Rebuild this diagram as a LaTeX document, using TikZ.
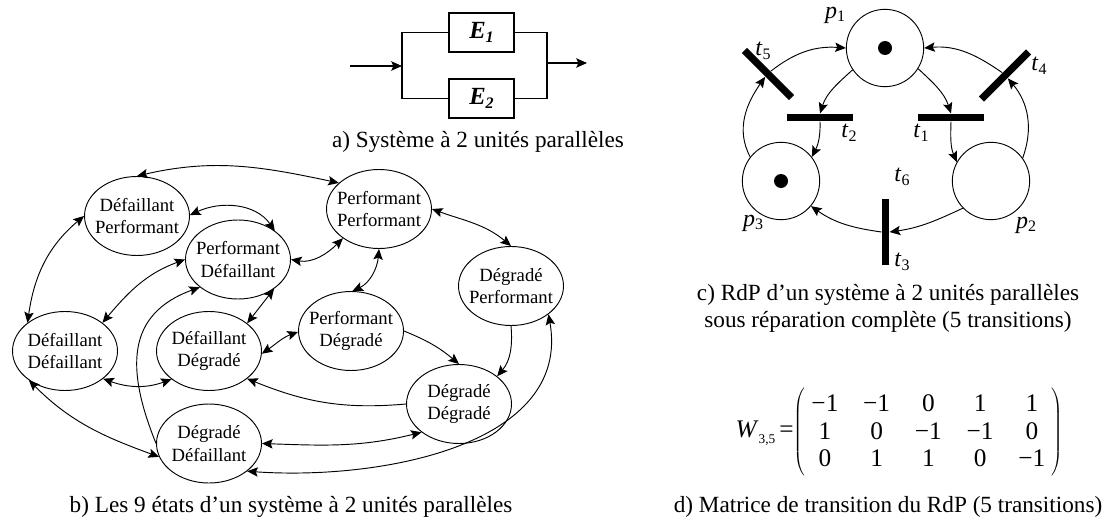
\documentclass[tikz,border=0pt]{standalone}
\usepackage{fontspec}
\setmainfont{Liberation Serif}
\usetikzlibrary{arrows.meta,matrix,shapes.geometric}
\newcommand{\sublab}[2]{\textit{#1}\raisebox{-.35ex}{\fontsize{12}{14}\selectfont #2}}

\begin{document}
\begin{tikzpicture}
    [x=.75pt,y=.75pt,line width=.7pt,>={Stealth[length=8pt,width=7pt,inset=1.5pt]},
    state/.style={ellipse,draw,inner xsep=-8pt,inner ysep=0pt,minimum width=78.75pt,minimum height=59.25pt,
    align=center,font=\fontsize{14}{17}\selectfont},
    place/.style={circle,draw,inner sep=0pt,minimum size=58pt},
    token/.style={circle,fill=black,inner sep=0pt,minimum size=10.5pt},
    bar/.style={rectangle,fill=black,inner sep=0pt,minimum width=50pt,minimum height=5.4pt},
    unit/.style={rectangle,draw,line width=.9pt,inner sep=0pt,minimum width=48.75pt,minimum height=29.25pt,
    font=\fontsize{18.5}{20}\selectfont\bfseries\itshape},
    wire/.style={line width=.9pt},
    caption/.style={inner sep=0pt,align=center,font=\fontsize{17.4}{20.2}\selectfont},
    lab/.style={inner sep=0pt,font=\fontsize{18}{20}\selectfont}]
    \useasboundingbox (0,0) rectangle (1102,519);

    \node[unit] (e1) at (481.5,486.5) {E\raisebox{-.35ex}{\fontsize{12}{14}\selectfont 1}};
    \node[unit] (e2) at (481.5,420.5) {E\raisebox{-.35ex}{\fontsize{12}{14}\selectfont 2}};
    \coordinate (in) at (350,453);
    \coordinate (jleft) at (402,453);
    \coordinate (jright) at (547,456);
    \coordinate (out) at (587,456);
    \draw[wire] (e1.west) -| (jleft) |- (e2.west);
    \draw[wire] (e1.east) -| (jright) |- (e2.east);
    \draw[wire,->] (in) -- (jleft);
    \draw[wire,->] (jright) -- (out);
    \node[caption] (capa) at (478,377) {a) Système à 2 unités parallèles};

    \node[state] (dp) at (137,303) {Défaillant\\Performant};
    \node[state] (pd) at (238,259.5) {Performant\\Défaillant};
    \node[state] (dd) at (65,168) {Défaillant\\Défaillant};
    \node[state] (dg) at (209,168) {Défaillant\\Dégradé};
    \node[state] (gd) at (209,75.5) {Dégradé\\Défaillant};
    \node[state] (pp) at (379,310) {Performant\\Performant};
    \node[state] (pg) at (351,188) {Performant\\Dégradé};
    \node[state] (gp) at (511,233) {Dégradé\\Performant};
    \node[state] (gg) at (459,115) {Dégradé\\Dégradé};
    \draw[<->] (dp.north) to[out=13,in=168] (pp.147);
    \draw[<->] (dp.1) to[out=25,in=125] (pd.38);
    \draw[<->] (pd.0) to[out=-10,in=225] (pp.219);
    \draw[<->] (pd.180) to[out=200,in=50] (dd.37);
    \draw[<->] (pd.-39) -- (dg.36);
    \draw[->] (gd.180) to[out=112,in=200,looseness=1.25] (pd.216);
    \draw[<->] (dp.180) to[out=220,in=82] (dd.143);
    \draw[<->] (dd.-36) to[out=-20,in=200] (dg.217);
    \draw[<->] (dd.219) to[out=-45,in=160] (gd.195);
    \draw[<->] (dg.357) to[out=35,in=200] (pg.181);
    \draw[->] (gg.180) to[out=185,in=-22] (dg.-36);
    \draw[<->] (gd.0) to[out=-2,in=194] (gg.217);
    \draw[<->] (gd.-36) to[out=-4,in=-80] (gp.-37);
    \draw[<->] (pp.0) to[out=-20,in=140] (gp.90);
    \draw[<->] (pp.-90) to[out=-95,in=25] (pg.88);
    \draw[->] (pg.0) to[out=-22,in=140] (gg.90);
    \draw[->] (gp.-90) to[out=-85,in=50] (gg.36);
    \node[caption] (capb) at (291,12) {b) Les 9 états d’un système à 2 unités parallèles};

    \node[place] (p1) at (885,471) {};
    \node[place] (p2) at (991,338) {};
    \node[place] (p3) at (781,338) {};
    \node[token] (m1) at (p1) {};
    \node[token] (m3) at (p3) {};
    \node[bar] (t1) at (951,401.5) {};
    \node[bar] (t2) at (820,401.5) {};
    \node[bar,rotate=90] (t3) at (885.5,287) {};
    \node[bar,rotate=45] (t4) at (1005,443.5) {};
    \node[bar,rotate=-45] (t5) at (768,445) {};
    \draw[->] (p1.-32) to[out=-43,in=108] (t1.north);
    \draw[->] (t1.south) to[out=-92,in=113] (p2.151);
    \draw[->] (p1.214) to[out=222,in=72] (t2.north);
    \draw[->] (t2.south) to[out=-88,in=63] (p3.38);
    \draw[->] (p2.224) to[out=205,in=8] (t3.south);
    \draw[->] (t3.north) to[out=172,in=-35] (p3.-40);
    \draw[->] (p2.36) to[out=70,in=-50] (t4.south);
    \draw[->] (t4.north) to[out=145,in=5] (p1.0);
    \draw[->] (p3.142) to[out=118,in=235] (t5.south);
    \draw[->] (t5.north) to[out=38,in=176] (p1.180);
    \node[lab] (lp1) at (835,504) {\sublab{p}{1}};
    \node[lab] (lp2) at (1026,294) {\sublab{p}{2}};
    \node[lab] (lp3) at (753,296) {\sublab{p}{3}};
    \node[lab] (lt1) at (921,386) {\sublab{t}{1}};
    \node[lab] (lt2) at (849,386) {\sublab{t}{2}};
    \node[lab] (lt3) at (902,257) {\sublab{t}{3}};
    \node[lab] (lt4) at (1039,453) {\sublab{t}{4}};
    \node[lab] (lt5) at (763,468) {\sublab{t}{5}};
    \node[lab] (lt6) at (902,342) {\sublab{t}{6}};
    \node[caption] (capc) at (888,211) {c) RdP d’un système à 2 unités parallèles\\sous réparation complète (5 transitions)};

    \matrix (wmat) at (928.4,87) [matrix of nodes,column sep=18.5pt,row sep=3.6pt,
    left delimiter=(,right delimiter=),
    nodes={inner sep=0pt,minimum width=20.3pt,text height=14pt,text depth=3pt,font=\fontsize{19}{20}\selectfont}] {
    −1 & −1 & 0 & 1 & 1 \\
    1 & 0 & −1 & −1 & 0 \\
    0 & 1 & 1 & 0 & −1 \\
    };
    \node[lab,anchor=east,font=\fontsize{19}{20}\selectfont] (wlab) at (794,86) {\textit{W}\raisebox{-.5ex}{\fontsize{10}{12}\selectfont 3,5}\hspace{3pt}=};
    \node[caption] (capd) at (888,12) {d) Matrice de transition du RdP (5 transitions)};
\end{tikzpicture}
\end{document}
